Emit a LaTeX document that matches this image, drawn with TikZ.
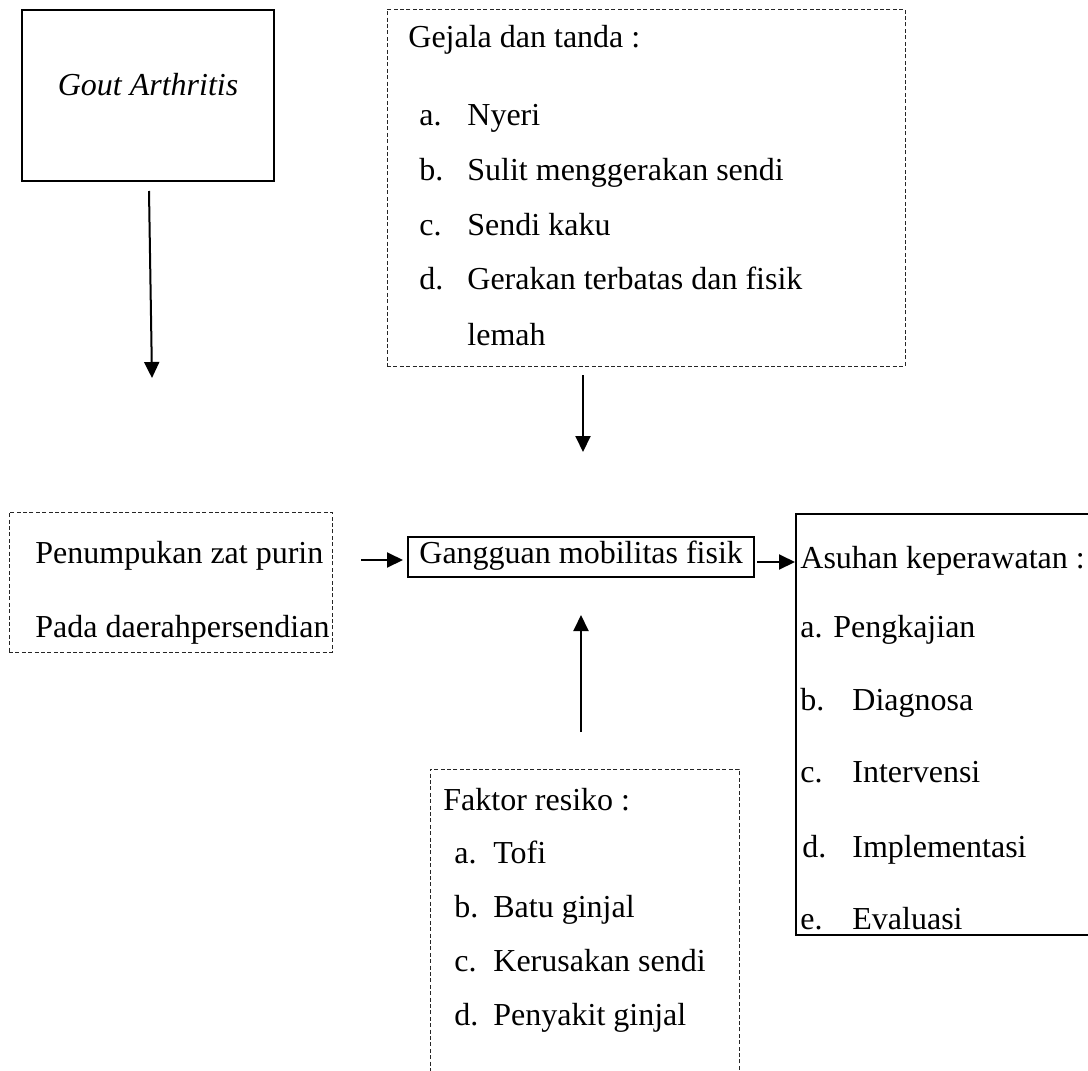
\documentclass[tikz,border=0pt]{standalone}
\usepackage{fontspec}
\setmainfont{Liberation Serif}
\usetikzlibrary{arrows.meta,fit}
\begin{document}
\begin{tikzpicture}[x=0.5pt,y=-0.5pt,
  txt/.style={anchor=base west, inner sep=0pt, font=\fontsize{16}{19}\selectfont},
  solidbox/.style={draw, line width=1pt, inner sep=0pt},
  dashbox/.style={draw=black!85, line width=0.5pt, dash pattern=on 2pt off 1.2pt, inner sep=0pt},
  arr/.style={line width=1pt, -{Triangle[length=8pt,width=7.5pt]}}]
\useasboundingbox (0,0) rectangle (1088,1071);
\clip (0,0) rectangle (1088,1071);

% boxes
\node[solidbox, fit={(22,10) (274,181)}] (gout) {};
\node[dashbox, fit={(387,9) (905,366)}] (gej) {};
\node[dashbox, fit={(9,512) (332,652)}] (pen) {};
\node[solidbox, fit={(408,537) (754,577)}] (gang) {};
\node[solidbox, fit={(796,514) (1100,935)}] (asuh) {};
\node[dashbox, fit={(430,769) (739,1100)}] (fak) {};

% Gout
\node[txt, anchor=base] (goutT) at (148,95) {\itshape Gout Arthritis};

% Gejala
\node[txt] (gejH) at (408,47) {Gejala dan tanda :};
\node[txt] (gejLa) at (419,125) {a.};
\node[txt] (gejA) at (467,125) {Nyeri};
\node[txt] (gejLb) at (419,180) {b.};
\node[txt] (gejB) at (467,180) {Sulit menggerakan sendi};
\node[txt] (gejLc) at (419,235) {c.};
\node[txt] (gejC) at (467,235) {Sendi kaku};
\node[txt] (gejLd) at (419,289) {d.};
\node[txt] (gejD) at (467,289) {Gerakan terbatas dan fisik};
\node[txt] (gejE) at (467,345) {lemah};

% Penumpukan
\node[txt] (pen1) at (35,563) {Penumpukan zat purin};
\node[txt] (pen2) at (35,637) {Pada daerahpersendian};

% Gangguan
\node[txt] (gangT) at (419,563) {Gangguan mobilitas fisik};

% Asuhan
\node[txt] (asH) at (800,568) {Asuhan keperawatan :};
\node[txt] (asA) at (800,637) {a. Pengkajian};
\node[txt] (asLb) at (800,710) {b.};
\node[txt] (asB) at (852,710) {Diagnosa};
\node[txt] (asLc) at (800,782) {c.};
\node[txt] (asC) at (852,782) {Intervensi};
\node[txt] (asLd) at (802,857) {d.};
\node[txt] (asD) at (852,857) {Implementasi};
\node[txt] (asLe) at (800,929) {e.};
\node[txt] (asE) at (852,929) {Evaluasi};

% Faktor
\node[txt] (fakH) at (443,810) {Faktor resiko :};
\node[txt] (fakLa) at (454,863) {a.};
\node[txt] (fakA) at (493,863) {Tofi};
\node[txt] (fakLb) at (454,917) {b.};
\node[txt] (fakB) at (493,917) {Batu ginjal};
\node[txt] (fakLc) at (454,971) {c.};
\node[txt] (fakC) at (493,971) {Kerusakan sendi};
\node[txt] (fakLd) at (454,1025) {d.};
\node[txt] (fakD) at (493,1025) {Penyakit ginjal};

% arrow ends
\coordinate (goutS) at (149,191);
\coordinate (goutE) at (152,378);
\coordinate (gejS) at (583,375);
\coordinate (gejE) at (583,452);
\coordinate (penS) at (361,560);
\coordinate (penE) at (403,560);
\coordinate (gangS) at (757,562);
\coordinate (fakS) at (581,732);
\coordinate (fakE) at (581,615);

\draw[arr] (goutS) -- (goutE);
\draw[arr] (gejS) -- (gejE);
\draw[arr] (penS) -- (penE);
\draw[arr] (gangS) -- (gangS -| asuh.west);
\draw[arr] (fakS) -- (fakE);
\end{tikzpicture}
\end{document}
